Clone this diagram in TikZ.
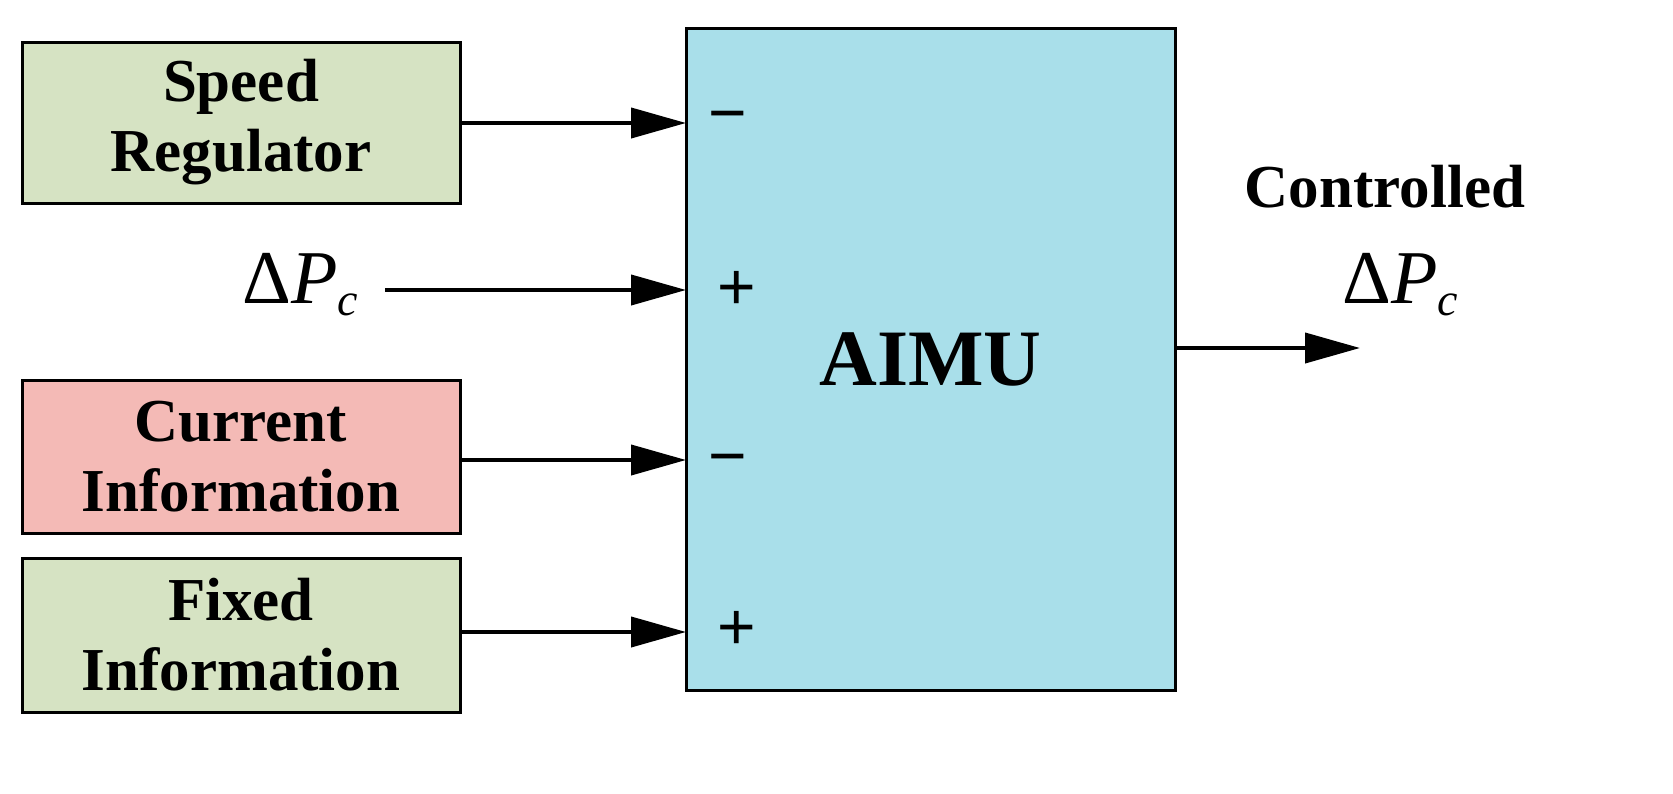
\documentclass[tikz,border=0pt]{standalone}
\usepackage{fontspec}
\setmainfont{Liberation Serif}
\newfontfamily\sgfont{Liberation Sans}
\usetikzlibrary{arrows.meta}
\definecolor{gbox}{HTML}{D6E3C3}
\definecolor{pbox}{HTML}{F4BAB6}
\definecolor{bbox}{HTML}{A9DFEA}
\newcommand{\dpc}{Δ\textit{P}\raisebox{-12pt}{\fontsize{46}{46}\selectfont\textit{c}}}
\begin{document}
\begin{tikzpicture}[x=1pt,y=-1pt,
 box/.style={draw,line width=3pt,inner sep=0pt,align=center,font=\fontsize{61}{70}\selectfont\bfseries},
 arr/.style={line width=4pt,-{Triangle[length=55pt,width=30pt]}},
 sg/.style={font=\fontsize{66}{66}\selectfont\sgfont,inner sep=0pt}]
\useasboundingbox (0,0) rectangle (1673,793);
\node[box,fill=gbox,minimum width=438pt,minimum height=161pt] (sr) at (241,122.5) {Speed\\Regulator};
\node[box,fill=pbox,minimum width=438pt,minimum height=153pt] (ci) at (241,456.5) {Current\\Information};
\node[box,fill=gbox,minimum width=438pt,minimum height=154pt] (fi) at (241,635) {Fixed\\Information};
\node[box,fill=bbox,minimum width=489pt,minimum height=662pt,font=\fontsize{80}{84}\selectfont\bfseries] (ai) at (930.5,359) {AIMU};
\node[inner sep=0pt,font=\fontsize{76}{76}\selectfont] (dp) at (300,285) {\dpc};
\coordinate (i1) at (686,123);
\coordinate (i2) at (686,290);
\coordinate (i3) at (686,460);
\coordinate (i4) at (686,632);
\coordinate (o) at (1360,348);
\draw[arr] (sr.east |- i1) -- (i1);
\draw[arr] (385,290) -- (i2);
\draw[arr] (ci.east |- i3) -- (i3);
\draw[arr] (fi.east |- i4) -- (i4);
\draw[arr] (ai.east |- o) -- (o);
\node[sg] (s1) at (728,123) {−};
\node[sg] (s2) at (737,290) {+};
\node[sg] (s3) at (728,466) {−};
\node[sg] (s4) at (737,630) {+};
\node[inner sep=0pt,font=\fontsize{61}{64}\selectfont\bfseries] (ct) at (1385,187) {Controlled};
\node[inner sep=0pt,font=\fontsize{76}{76}\selectfont] (dp2) at (1400,285) {\dpc};
\end{tikzpicture}
\end{document}
